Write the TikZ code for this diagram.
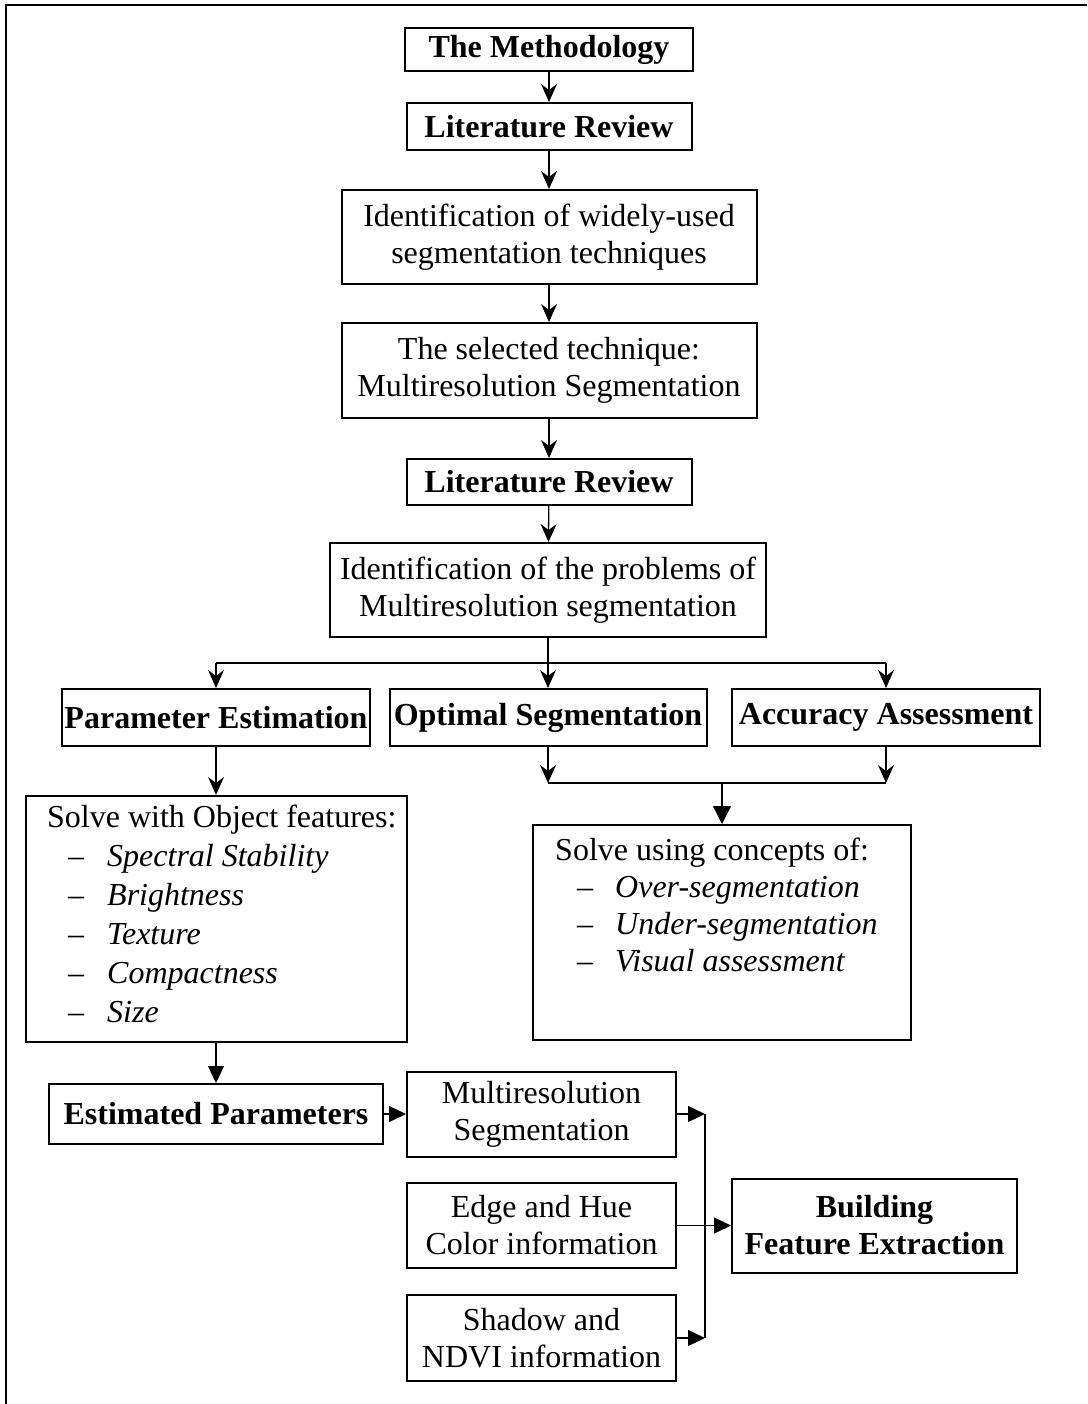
\documentclass[tikz,border=0pt]{standalone}
\usepackage{fontspec}
\setmainfont{Liberation Serif}
\usetikzlibrary{arrows.meta}
\begin{document}
\begin{tikzpicture}[x=1pt,y=-1pt,
  box/.style={draw, line width=2pt, inner sep=0pt, align=center, font=\fontsize{32}{37}\selectfont},
  bbox/.style={box, font=\fontsize{32}{37}\selectfont\bfseries},
  conn/.style={line width=1.3pt},
  hconn/.style={line width=2pt},
  arr/.style={conn, -{Stealth[length=18pt,width=16pt,inset=6pt]}},
  tarr/.style={conn, -{Triangle[length=17pt,width=16pt]}},
  listtext/.style={anchor=base west, inner sep=0pt}
]
\useasboundingbox (0,0) rectangle (1087,1404);
\draw[line width=2.5pt] (1087,5) -- (6,5) -- (6,1404);

% top chain
\node[bbox, minimum width=288pt, minimum height=43pt] (meth) at (549,49.5) {The Methodology};
\node[bbox, minimum width=285pt, minimum height=47pt] (lit1) at (549,126.5) {Literature Review};
\node[box, minimum width=415pt, minimum height=94pt] (ident1) at (549,237) {Identification of widely-used\\segmentation techniques};
\node[box, minimum width=415pt, minimum height=95pt] (sel) at (549,370.5) {The selected technique:\\Multiresolution Segmentation};
\node[bbox, minimum width=285pt, minimum height=46pt] (lit2) at (549,482) {Literature Review};
\node[box, minimum width=436pt, minimum height=94pt] (ident2) at (548,590) {Identification of the problems of\\Multiresolution segmentation};

% three branches
\node[bbox, minimum width=308pt, minimum height=57pt] (param) at (216,717.5) {Parameter Estimation};
\node[bbox, minimum width=317pt, minimum height=57pt] (opt) at (548,717.5) {Optimal Segmentation};
\node[bbox, minimum width=308pt, minimum height=57pt] (acc) at (886,717.5) {Accuracy Assessment};

% solve boxes
\node[box, minimum width=381pt, minimum height=246pt] (solveA) at (216,919) {};
\node[listtext] (solveAtext) at (47,827) {\fontsize{32}{39}\selectfont
  \begin{tabular}[t]{@{}l@{}}
  Solve with Object features:\\
  \hspace*{21pt}\textendash\hspace*{23pt}\textit{Spectral Stability}\\
  \hspace*{21pt}\textendash\hspace*{23pt}\textit{Brightness}\\
  \hspace*{21pt}\textendash\hspace*{23pt}\textit{Texture}\\
  \hspace*{21pt}\textendash\hspace*{23pt}\textit{Compactness}\\
  \hspace*{21pt}\textendash\hspace*{23pt}\textit{Size}
  \end{tabular}};
\node[box, minimum width=378pt, minimum height=215pt] (solveB) at (722,932.5) {};
\node[listtext] (solveBtext) at (555,860) {\fontsize{32}{37}\selectfont
  \begin{tabular}[t]{@{}l@{}}
  Solve using concepts of:\\
  \hspace*{22pt}\textendash\hspace*{22pt}\textit{Over-segmentation}\\
  \hspace*{22pt}\textendash\hspace*{22pt}\textit{Under-segmentation}\\
  \hspace*{22pt}\textendash\hspace*{22pt}\textit{Visual assessment}
  \end{tabular}};

% bottom part
\node[bbox, minimum width=334pt, minimum height=60pt] (est) at (216,1114) {Estimated Parameters};
\node[box, minimum width=269pt, minimum height=85pt] (multi) at (541.5,1114) {Multiresolution\\Segmentation};
\node[box, minimum width=269pt, minimum height=85pt] (edge) at (541.5,1225.5) {Edge and Hue\\Color information};
\node[box, minimum width=269pt, minimum height=86pt] (shadow) at (541.5,1338) {Shadow and\\NDVI information};
\node[bbox, minimum width=285pt, minimum height=94pt] (build) at (874.5,1225.5) {Building\\Feature Extraction};

% connectors, top chain
\draw[arr] (meth) -- (lit1);
\draw[arr] (lit1) -- (ident1);
\draw[arr] (ident1) -- (sel);
\draw[arr] (sel) -- (lit2);
\draw[arr] (lit2) -- (ident2);

% branch
\coordinate (br) at (548,663);
\draw[conn] (ident2.south) -- (br);
\draw[hconn] (param.north |- br) -- (acc.north |- br);
\draw[arr] (param.north |- br) -- (param.north);
\draw[arr] (br) -- (opt.north);
\draw[arr] (acc.north |- br) -- (acc.north);

% join
\coordinate (jn) at (722,783);
\draw[arr] (opt.south) -- (opt.south |- jn);
\draw[arr] (acc.south) -- (acc.south |- jn);
\draw[hconn] (opt.south |- jn) -- (acc.south |- jn);
\draw[conn, -{Triangle[length=18pt,width=18pt]}] (jn) -- (solveB.north);

\draw[arr] (param) -- (solveA);
\draw[tarr] (solveA) -- (est);

% bottom
\coordinate (vt) at (705,1114);
\coordinate (vb) at (705,1338);
\draw[tarr] (est) -- (multi);
\draw[tarr] (multi.east) -- (vt);
\draw[tarr] (shadow.east) -- (vb);
\draw[conn] (vt) -- (vb);
\draw[tarr] (edge) -- (build);
\end{tikzpicture}
\end{document}
